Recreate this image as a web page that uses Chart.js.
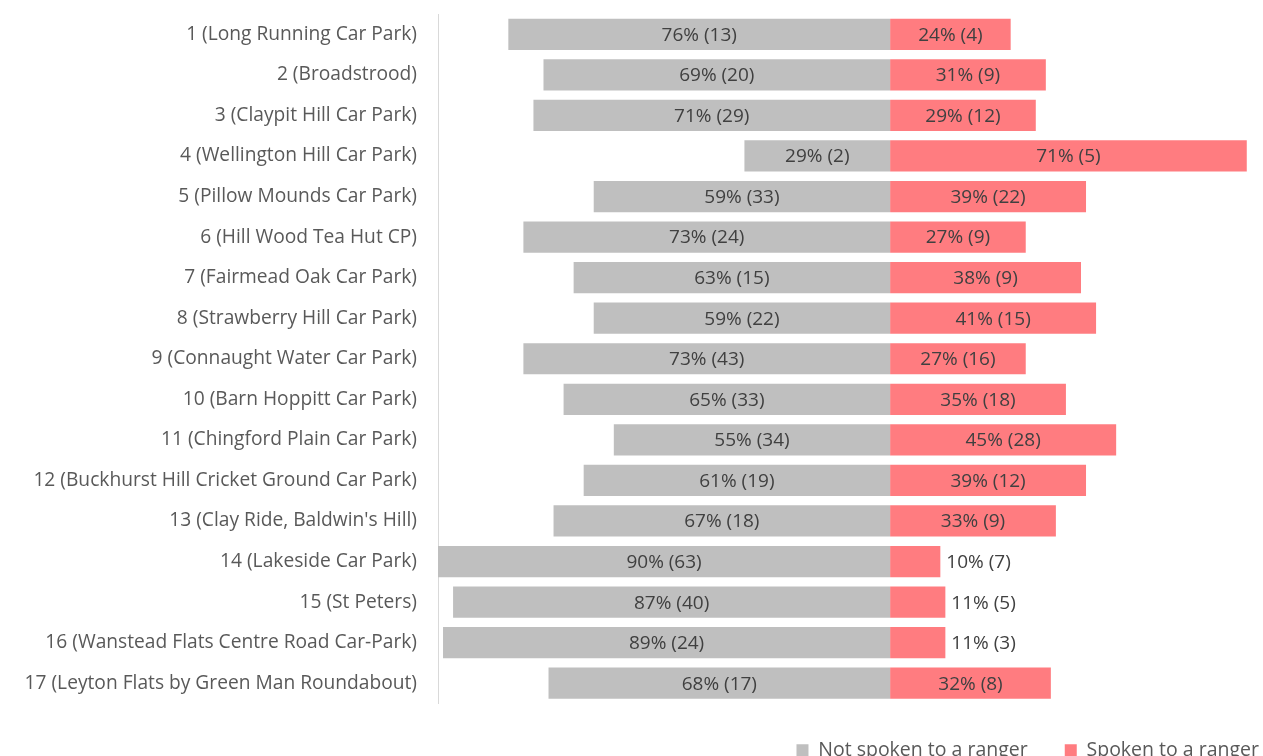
<!DOCTYPE html>
<html>
<head>
<meta charset="utf-8">
<script src="https://cdn.jsdelivr.net/npm/chart.js@4"></script>
<style>
  html, body { margin: 0; padding: 0; background: #fff; overflow: hidden; }
  #wrap { width: 1296px; height: 770px; position: relative; }
</style>
</head>
<body>
<div id="wrap"><canvas id="mycanvas"></canvas></div>
<script>
// categories
var locais = [
  '1 (Long Running Car Park)',
  '2 (Broadstrood)',
  '3 (Claypit Hill Car Park)',
  '4 (Wellington Hill Car Park)',
  '5 (Pillow Mounds Car Park)',
  '6 (Hill Wood Tea Hut CP)',
  '7 (Fairmead Oak Car Park)',
  '8 (Strawberry Hill Car Park)',
  '9 (Connaught Water Car Park)',
  '10 (Barn Hoppitt Car Park)',
  '11 (Chingford Plain Car Park)',
  '12 (Buckhurst Hill Cricket Ground Car Park)',
  '13 (Clay Ride, Baldwin\'s Hill)',
  '14 (Lakeside Car Park)',
  '15 (St Peters)',
  '16 (Wanstead Flats Centre Road Car-Park)',
  '17 (Leyton Flats by Green Man Roundabout)'
];
// not spoken to a ranger: percent and count
var naoPct = [76, 69, 71, 29, 59, 73, 63, 59, 73, 65, 55, 61, 67, 90, 87, 89, 68];
var naoNum = [13, 20, 29, 2, 33, 24, 15, 22, 43, 33, 34, 19, 18, 63, 40, 24, 17];
// spoken to a ranger: percent and count
var simPct = [24, 31, 29, 71, 39, 27, 38, 41, 27, 35, 45, 39, 33, 10, 11, 11, 32];
var simNum = [4, 9, 12, 5, 22, 9, 9, 15, 16, 18, 28, 12, 9, 7, 5, 3, 8];

var cinza = '#BFBFBF';
var vermelho = '#FF7C80';
var fonte = "'Open Sans', 'Noto Sans', sans-serif";

// value labels inside the bars (outside when the bar is too short)
var rotulos = {
  id: 'rotulos',
  afterDatasetsDraw: function(chart){
    var ctx = chart.ctx;
    ctx.save();
    ctx.font = '19px ' + fonte;
    ctx.fillStyle = '#404040';
    ctx.textBaseline = 'middle';
    chart.data.datasets.forEach(function(ds, d){
      var meta = chart.getDatasetMeta(d);
      meta.data.forEach(function(bar, i){
        var txt = ds.pcts[i] + '% (' + ds.nums[i] + ')';
        var w = ctx.measureText(txt).width;
        var largura = Math.abs(bar.x - bar.base);
        if (w + 4 > largura && d == 1) {
          ctx.textAlign = 'left';
          ctx.fillText(txt, Math.max(bar.x, bar.base) + 6, bar.y + 1);
        } else {
          ctx.textAlign = 'center';
          ctx.fillText(txt, (bar.x + bar.base) / 2, bar.y + 1);
        }
      });
    });
    ctx.restore();
  }
};

var extdata = {
  labels: locais,
  datasets: [
    {
      label: 'Not spoken to a ranger',
      data: naoPct.map(function(v){ return -v; }),
      pcts: naoPct,
      nums: naoNum,
      backgroundColor: cinza
    },
    {
      label: 'Spoken to a ranger',
      data: simPct,
      pcts: simPct,
      nums: simNum,
      backgroundColor: vermelho
    }
  ]
};

var ctx = document.getElementById('mycanvas');
var barGraph = new Chart(ctx, {
  type: 'bar',
  data: extdata,
  plugins: [rotulos],
  options: {
    indexAxis: 'y',
    responsive: true,
    maintainAspectRatio: false,
    animation: false,
    layout: { padding: { top: 14, left: 0, right: 0, bottom: 0 } },
    datasets: { bar: { categoryPercentage: 0.77, barPercentage: 1 } },
    scales: {
      x: {
        stacked: true,
        display: false,
        min: -90,
        max: 80.8
      },
      y: {
        stacked: true,
        grid: { display: true, drawOnChartArea: false, drawTicks: true, tickLength: 21, color: 'rgba(0,0,0,0)' },
        border: { display: true, color: '#D9D9D9', width: 1 },
        afterFit: function(s){ s.width = 438; },
        ticks: {
          padding: 0,
          color: '#595959',
          font: { family: fonte, size: 19.2 }
        }
      }
    },
    plugins: {
      tooltip: { enabled: false },
      legend: {
        position: 'bottom',
        align: 'end',
        labels: {
          boxWidth: 12,
          boxHeight: 12,
          padding: 37,
          color: '#595959',
          font: { family: fonte, size: 19.5 }
        }
      }
    }
  }
});
</script>
</body>
</html>
